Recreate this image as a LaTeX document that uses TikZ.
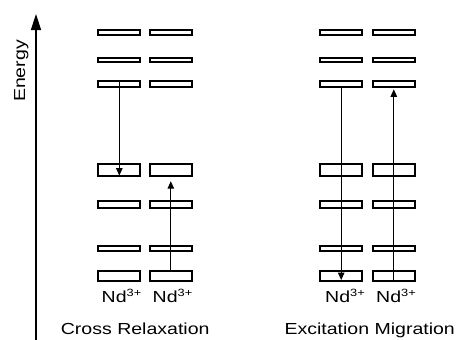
\documentclass[tikz,border=0pt]{standalone}
\usepackage{graphicx}
\usepackage{fontspec}
\setmainfont{Liberation Sans}
\usetikzlibrary{arrows.meta}
% wide sans lettering
\newcommand{\widetext}[1]{\scalebox{1.22}[1]{#1}}
\newcommand{\ndion}{\widetext{Nd\raisebox{6pt}{\fontsize{10.5}{12}\selectfont 3+}}}

\begin{document}
\begin{tikzpicture}[x=1pt,y=-1pt,
  level/.style={draw, line width=2pt, fill=white, minimum width=41.8pt,
    inner sep=0pt, outer sep=0pt},
  trans/.style={line width=1pt, -{Triangle[length=7.5pt,width=6.5pt]}},
  axisarrow/.style={line width=1.5pt, -{Triangle[length=16pt,width=10pt]}},
  lbl/.style={font=\fontsize{16}{19}\selectfont, inner sep=0pt, anchor=base}]

% canvas
\fill[white] (0,0) rectangle (458,340);
\useasboundingbox (0,0) rectangle (458,340);

% energy axis
\coordinate (ebase) at (36,340);
\coordinate (etip) at (36,14);
\draw[axisarrow] (ebase) -- (etip);
\node[lbl, rotate=90] (energy) at (25,71) {\widetext{Energy}};

% energy levels of the four ions
\foreach \col/\x in {a/119.3, b/170.8, c/341.2, d/393.8}{
  \foreach \n/\y/\h in {1/32.7/4.7, 2/60/4.7, 3/83.8/6.0, 4/169.6/12.0,
                        5/204.7/7.3, 6/248.7/5.3, 7/276/10.0}{
    \node[level, minimum height=\h pt] (\col\n) at (\x,\y) {};
  }
}

% cross relaxation
\draw[trans] (a3.north) -- (a4.south);
\draw[trans] (b7.north) -- ([yshift=-5.6pt]b4.south);

% excitation migration
\draw[trans] (c3.south) -- ([yshift=1pt]c7.south);
\draw[trans] (d7.south) -- ([yshift=-2.5pt]d3.south);

% ion labels
\node[lbl] (na) at (121.5,302.7) {\ndion};
\node[lbl] (nb) at (172.5,302.7) {\ndion};
\node[lbl] (nc) at (345,302.7) {\ndion};
\node[lbl] (nd) at (396,302.7) {\ndion};

% captions
\node[lbl] (cr) at (135.2,334.3) {\widetext{Cross Relaxation}};
\node[lbl] (em) at (369.7,334.8) {\widetext{Excitation Migration}};
\end{tikzpicture}
\end{document}
